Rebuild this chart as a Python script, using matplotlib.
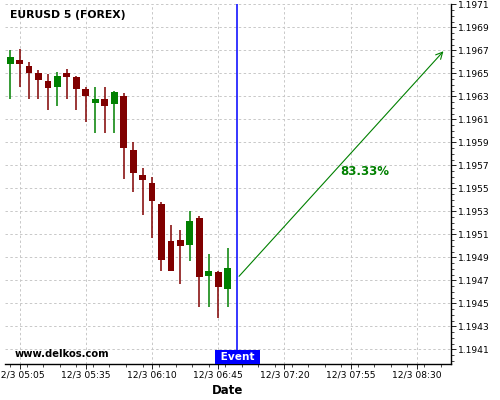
import matplotlib
matplotlib.use('Agg')
import matplotlib.pyplot as plt
from matplotlib.ticker import MultipleLocator, FixedLocator, FixedFormatter

# 5 minute candles, 12/3 05:00 .. 06:55
times = ['05:00', '05:05', '05:10', '05:15', '05:20', '05:25', '05:30', '05:35',
         '05:40', '05:45', '05:50', '05:55', '06:00', '06:05', '06:10', '06:15',
         '06:20', '06:25', '06:30', '06:35', '06:40', '06:45', '06:50', '06:55']
opens = [1.19658, 1.19662, 1.19656, 1.19650, 1.19643, 1.19638, 1.19650, 1.19647,
         1.19636, 1.19624, 1.19628, 1.19623, 1.19630, 1.19583, 1.19562, 1.19555,
         1.19536, 1.19504, 1.19505, 1.19501, 1.19524, 1.19474, 1.19477, 1.19462]
highs = [1.19670, 1.19671, 1.19660, 1.19653, 1.19649, 1.19651, 1.19654, 1.19648,
         1.19638, 1.19638, 1.19638, 1.19635, 1.19633, 1.19590, 1.19568, 1.19560,
         1.19538, 1.19518, 1.19514, 1.19530, 1.19526, 1.19493, 1.19478, 1.19498]
lows = [1.19628, 1.19638, 1.19628, 1.19628, 1.19618, 1.19622, 1.19628, 1.19618,
        1.19608, 1.19598, 1.19598, 1.19598, 1.19558, 1.19547, 1.19527, 1.19507,
        1.19478, 1.19478, 1.19467, 1.19487, 1.19447, 1.19447, 1.19437, 1.19447]
closes = [1.19664, 1.19658, 1.19650, 1.19644, 1.19637, 1.19648, 1.19647, 1.19636,
          1.19630, 1.19628, 1.19622, 1.19634, 1.19585, 1.19563, 1.19557, 1.19539,
          1.19488, 1.19478, 1.19500, 1.19522, 1.19473, 1.19478, 1.19464, 1.19481]

event_time = '07:00'
event_price = 1.194717
target_time = '08:50'
target_price = 1.19671
pct_text = '83.33%'
pct_pos = ('07:55', 1.195642)

x_tick_labels = ['12/3 05:05', '12/3 05:35', '12/3 06:10', '12/3 06:45',
                 '12/3 07:20', '12/3 07:55', '12/3 08:30']
y_ticks = [1.1941, 1.1943, 1.1945, 1.1947, 1.1949, 1.1951, 1.1953, 1.1955,
           1.1957, 1.1959, 1.1961, 1.1963, 1.1965, 1.1967, 1.1969, 1.1971]


def to_min(t):
    h, m = t.split(':')
    return (int(h) - 5) * 60 + int(m)


xs = [to_min(t) for t in times]
green = '#008000'
red = '#800000'

fig = plt.figure(figsize=(5, 4), dpi=100)
ax = fig.add_axes([0.01, 0.09, 0.892, 0.90])

for x, o, h, l, c in zip(xs, opens, highs, lows, closes):
    col = green if c >= o else red
    ax.vlines(x, l, h, color=col, lw=1.1, zorder=3)
    body = c - o
    if abs(body) < 0.000012:
        body = 0.000012 if body >= 0 else -0.000012
    ax.bar(x, body, bottom=o, width=3.6, color=col, zorder=4, linewidth=0)

ev_x = to_min(event_time)
ax.axvline(ev_x, color='#0000ff', lw=1.1, zorder=5)
ax.annotate('', xy=(to_min(target_time), target_price), xytext=(ev_x, event_price),
            arrowprops=dict(arrowstyle='->', color=green, lw=0.8, mutation_scale=12),
            zorder=6)
ax.text(to_min(pct_pos[0]) - 0.3, pct_pos[1], pct_text, color=green, fontsize=8.5,
        fontweight='bold', va='center', ha='left')

ax.text(0.011, 0.969, 'EURUSD 5 (FOREX)', transform=ax.transAxes, fontsize=7.8,
        fontweight='bold', va='center', ha='left')
ax.text(0.022, 0.028, 'www.delkos.com', transform=ax.transAxes, fontsize=7.2,
        fontweight='bold', va='center', ha='left')
ax.text(ev_x, 0.0065, ' Event ', transform=ax.get_xaxis_transform(), fontsize=7.6,
        fontweight='bold', color='white', ha='center', va='bottom', zorder=7,
        bbox=dict(boxstyle='square,pad=0.2', fc='#0000ff', ec='none'))

ax.set_xlim(-2.7, 233)
ax.set_ylim(1.193972, 1.197103)

major_x = [5 + 35 * i for i in range(len(x_tick_labels))]
ax.xaxis.set_major_locator(FixedLocator(major_x))
ax.xaxis.set_major_formatter(FixedFormatter(x_tick_labels))
ax.xaxis.set_minor_locator(MultipleLocator(8.75))
ax.yaxis.set_major_locator(FixedLocator(y_ticks))
ax.yaxis.set_major_formatter(FixedFormatter(['%.4f' % v for v in y_ticks]))
ax.yaxis.set_minor_locator(MultipleLocator(0.00005))
ax.yaxis.tick_right()

ax.tick_params(axis='both', which='major', labelsize=6.6, length=3.5, width=0.6, pad=1.5)
ax.tick_params(axis='both', which='minor', length=2, width=0.5)
ax.spines['left'].set_visible(False)
ax.spines['top'].set_visible(False)
ax.spines['right'].set_linewidth(1.0)
ax.spines['bottom'].set_linewidth(1.0)

ax.grid(True, which='major', color='#c8c8c8', linestyle=(0, (2.5, 2.5)), lw=0.7)
ax.set_axisbelow(True)

ax.set_xlabel('Date', fontsize=8.5, fontweight='bold', labelpad=3)

fig.savefig('out.png', dpi=100)
